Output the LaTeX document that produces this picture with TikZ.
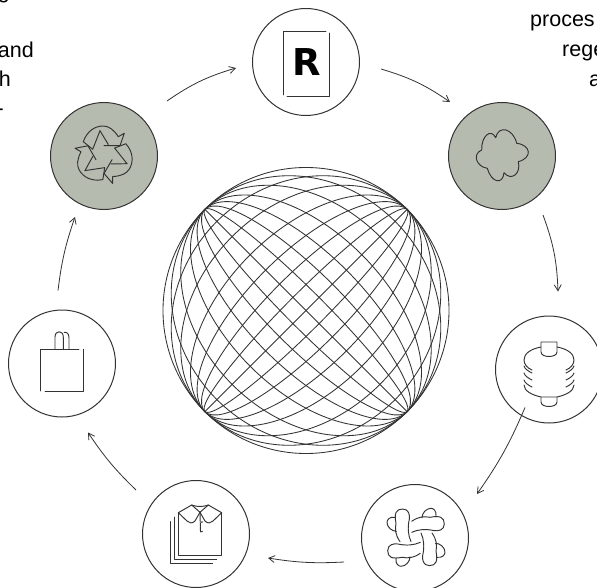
\documentclass[tikz,border=0pt]{standalone}
\usepackage{fontspec}
\setmainfont{Liberation Sans}
\newfontfamily\markfont{DejaVu Sans}
\usetikzlibrary{arrows.meta,calc}
\definecolor{ink}{HTML}{333333}
\definecolor{sage}{HTML}{B6BBB0}
\tikzset{
  stage/.style={circle,draw=ink,line width=1pt,minimum size=107pt,inner sep=0pt,fill=white},
  stagefill/.style={stage,fill=sage},
  conn/.style={draw=ink,line width=.8pt,-{Straight Barb[length=6pt,width=7pt,line width=.8pt]}},
  icon/.style={draw=ink,line width=.95pt,line cap=round,line join=round},
  mesh/.style={draw=ink,line width=.85pt},
  cropped/.style={inner sep=0pt,font=\fontsize{21.5}{26}\selectfont,text=black}
}
\begin{document}
\begin{tikzpicture}[x=1pt,y=-1pt]
\useasboundingbox (0,0) rectangle (597,588);
\clip (0,0) rectangle (597,588);
\fill[white] (0,0) rectangle (597,588);
% stage circles
\node[stage]     (brand)  at (306,62)    {};
\node[stagefill] (cotton) at (502,156)   {};
\node[stage]     (spool)  at (549,369.5) {};
\node[stage]     (fibre)  at (415,538)   {};
\node[stage]     (shirt)  at (196,534)   {};
\node[stage]     (bag)    at (62,363.5)  {};
\node[stagefill] (recyc)  at (104,156)   {};
% sphere
\node[circle,draw=ink,line width=.85pt,minimum size=286pt,inner sep=0pt] (sphere) at (306,310.5) {};
\foreach \a in {45,-45}{
  \foreach \b in {0.01,18.5,37.3,57.1,78.9,104.5,126}{
    \draw[mesh,rotate around={\a:(sphere.center)}] (sphere.center) ellipse [x radius=143, y radius=\b];
  }
}
% connectors
\draw[conn] ([shift={(63,-55)}]recyc.center) to[bend left=9] ([shift={(-70,6)}]brand.center);
\draw[conn] ([shift={(75,7)}]brand.center) to[bend left=9] ([shift={(-52,-54)}]cotton.center);
\draw[conn] ([shift={(41,59)}]cotton.center) to[bend left=9] ([shift={(9,-78)}]spool.center);
\draw[conn] ([shift={(-24,38)}]spool.center) to[bend left=6] ([shift={(62,-44)}]fibre.center);
\draw[conn] ([shift={(-71,24)}]fibre.center) to[bend left=6] ([shift={(72,24)}]shirt.center);
\draw[conn] ([shift={(-60,-44)}]shirt.center) to[bend left=6] ([shift={(26,69)}]bag.center);
\draw[conn] ([shift={(-4,-73)}]bag.center) to[bend left=6] ([shift={(-29,61)}]recyc.center);
% R icon
\draw[icon] (283,95) -- (283,31) -- (326,31);
\draw[icon] (329,33) -- (329,96) -- (287,96);
\node[inner sep=0pt,anchor=base,font=\fontsize{37}{37}\selectfont\markfont\bfseries] (rmark) at (307,76) {R};
% cotton
\draw[icon] (481.7,150) .. controls (481.1,136.3) and (490.9,127.7) .. (495.7,137.7)
  .. controls (498.5,124.5) and (513.2,128.5) .. (516.7,143.3)
  .. controls (531.3,145.1) and (532.5,157.9) .. (518.3,161.7)
  .. controls (521.3,173.7) and (511.3,181.5) .. (504,172.7)
  .. controls (502.8,185.5) and (491.2,182.5) .. (487.3,168.3)
  .. controls (476.1,166.7) and (472.1,153.9) .. (481.7,150) -- cycle;
% recycle
\foreach \r in {0,120,240}{
  \begin{scope}[shift={(104,155)},rotate=\r]
    \draw[icon] (-4,-24.3) -- (-11.3,-5.7) -- (-20.7,-13.3) .. controls (-17,-24) and (-9,-29) .. (-.7,-29)
      .. controls (5,-29) and (10,-25) .. (14.3,-18.3)
      -- (20.3,-21.7) -- (16,-9.3) -- (0,-9.3);
    \draw[icon] (-4,-24.3) -- (4.3,-10.5);
  \end{scope}
}
% spool
\draw[icon] (541,352) -- (541,342) -- (557,342) -- (557,352) .. controls (557,358) and (541,358) .. (541,352);
\draw[icon] (541,347) .. controls (530,349) and (524,354) .. (524,360) .. controls (524,364) and (527,368) .. (532,370);
\draw[icon] (557,347) .. controls (568,349) and (574,354) .. (574,360) .. controls (574,364) and (571,368) .. (566,370);
\foreach \y in {366,373,380}{
  \draw[icon] (524,\y) .. controls (525,\y+3) and (528,\y+5) .. (532,\y+7);
  \draw[icon] (574,\y) .. controls (573,\y+3) and (570,\y+5) .. (566,\y+7);
}
\draw[icon] (524,385) .. controls (524,391) and (532,395) .. (541,397) -- (557,397) .. controls (566,395) and (574,391) .. (574,385);
\draw[icon] (541,397) -- (541,402) .. controls (541,408) and (557,408) .. (557,402) -- (557,397);
% fibre
\foreach \r in {0,90,180,270}{
  \begin{scope}[shift={(416,537.3)},rotate=\r]
    \draw[icon] (-16,4.3) .. controls (-21,-3) and (-21,-8) .. (-20,-14)
      .. controls (-22,-24) and (-20,-28.3) .. (-13.3,-28.3)
      .. controls (-7,-28.3) and (-6,-22) .. (-6.7,-18)
      .. controls (-8.5,-10) and (-8,-2) .. (-5,4.3);
    \draw[icon] (-20.5,-20) .. controls (-27,-21) and (-29,-17) .. (-29,-15)
      .. controls (-29,-10) and (-24,-6) .. (-19.5,-6);
  \end{scope}
}
% shirt
\draw[icon] (178.3,513) -- (178.3,555) -- (221.7,555) -- (221.7,513);
\draw[icon] (178.3,512.7) -- (191.7,505) -- (200,512.3) -- (195,521) .. controls (192,524) and (189,523) .. (187,521) -- cycle;
\draw[icon] (221.7,512.7) -- (208.3,505) -- (200,512.3) -- (205,521) .. controls (208,524) and (211,523) .. (213,521) -- cycle;
\draw[icon] (191.7,505) .. controls (197,507) and (203,507) .. (208.3,505);
\draw[icon] (200,512.3) -- (200.5,532);
\fill[ink] (201.9,522) circle [radius=.9] (201.9,531.5) circle [radius=.9];
\draw[icon] (174,517) -- (174,559.3) -- (216.7,559.3);
\draw[icon] (170,521.7) -- (170,563.3) -- (212.7,563.3);
% bag
\draw[icon] (40.7,391) -- (40.7,349.3) -- (79,349.3);
\draw[icon] (83,349.3) -- (83,391.3) -- (45,391.3);
\draw[icon] (55,349) -- (55,337) .. controls (55,330) and (63.3,330) .. (63.3,337) -- (63.3,349);
\draw[icon] (64,332.5) .. controls (67,331.5) and (69,334) .. (69,338) -- (69,349);
% cropped captions
\node[cropped,anchor=base east] (l0) at (10,-1) {g};
\node[cropped,anchor=base east] (l1) at (34,58) {and};
\node[cropped,anchor=base east] (l2) at (11,87) {h};
\node[cropped,anchor=base east] (l3) at (4,116) {-};
\node[cropped,anchor=base west] (r1) at (530,27) {proces};
\node[cropped,anchor=base west] (r2) at (562,57) {rege};
\node[cropped,anchor=base west] (r3) at (589,87) {a};
\end{tikzpicture}
\end{document}
